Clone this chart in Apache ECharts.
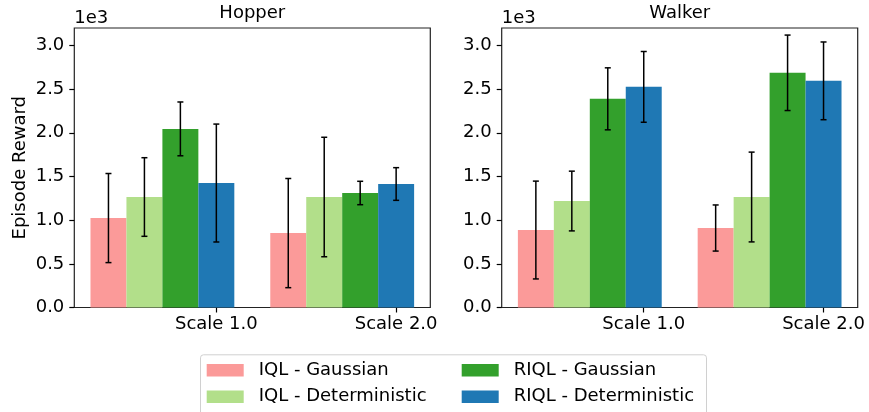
<!DOCTYPE html>
<html>
<head>
<meta charset="utf-8">
<script src="https://cdn.jsdelivr.net/npm/echarts@6/dist/echarts.min.js"></script>
<style>html,body{margin:0;padding:0;background:#fff}#c{width:869px;height:412px}</style>
</head>
<body>
<div id="c"></div>
<script>
// ---- data ----
const categories = ['Scale 1.0', 'Scale 2.0'];
const groupPos = [0, 1];
const tickPos = [0.6, 1.6];
const yTicks = [0, 500, 1000, 1500, 2000, 2500, 3000];
const methods = ['IQL - Gaussian', 'IQL - Deterministic', 'RIQL - Gaussian', 'RIQL - Deterministic'];
const colors = ['#fb9a99', '#b2df8a', '#33a02c', '#1f78b4'];
const envs = ['Hopper', 'Walker'];

// means per method: [Scale 1.0, Scale 2.0]
const hopperMean = [[1024, 852], [1265, 1265], [2045, 1311], [1425, 1414]];
const hopperStd  = [[510, 625], [450, 684], [308, 134], [675, 187]];
const walkerMean = [[887, 910], [1219, 1265], [2389, 2687], [2526, 2595]];
const walkerStd  = [[560, 264], [342, 514], [355, 432], [405, 445]];

const barW = 0.2;
const FONT = 'DejaVu Sans';
const FS = 18;

const chart = echarts.init(document.getElementById('c'), null, {renderer: 'canvas'});

const gridLefts = [74.3, 501.7];
const gridW = 356;

function makeSeries(gi, means, stds, mi) {
  return {
    type: 'custom',
    name: methods[mi],
    xAxisIndex: gi,
    yAxisIndex: gi,
    itemStyle: {color: colors[mi]},
    encode: {x: 0, y: 1},
    data: groupPos.map((g, k) => [g + mi * barW, means[mi][k], stds[mi][k]]),
    renderItem: function (params, api) {
      const x = api.value(0), y = api.value(1), e = api.value(2);
      const tl = api.coord([x - barW / 2, y]);
      const br = api.coord([x + barW / 2, 0]);
      const t = api.coord([x, y + e]);
      const b = api.coord([x, y - e]);
      const cw = 3;
      const ls = {stroke: '#000', lineWidth: 1.5};
      return {
        type: 'group',
        children: [
          {type: 'rect', shape: {x: tl[0], y: tl[1], width: br[0] - tl[0], height: br[1] - tl[1]}, style: {fill: colors[mi]}},
          {type: 'line', z2: 10, shape: {x1: t[0], y1: t[1], x2: b[0], y2: b[1]}, style: ls},
          {type: 'line', z2: 10, shape: {x1: t[0] - cw, y1: t[1], x2: t[0] + cw, y2: t[1]}, style: ls},
          {type: 'line', z2: 10, shape: {x1: b[0] - cw, y1: b[1], x2: b[0] + cw, y2: b[1]}, style: ls}
        ]
      };
    }
  };
}

const series = [];
[[hopperMean, hopperStd], [walkerMean, walkerStd]].forEach(([m, s], gi) => {
  for (let mi = 0; mi < methods.length; mi++) series.push(makeSeries(gi, m, s, mi));
});

const grids = gridLefts.map(l => ({
  left: l, top: 28, width: gridW, height: 279.5,
  show: true, borderColor: '#222', borderWidth: 1.2, backgroundColor: 'transparent'
}));

const xAxes = gridLefts.map((l, gi) => ({
  type: 'value', gridIndex: gi, min: -0.19, max: 1.79,
  splitLine: {show: false},
  axisLine: {show: false, onZero: false},
  axisTick: {show: true, customValues: tickPos, length: 5, lineStyle: {color: '#000', width: 1.2}},
  axisLabel: {
    customValues: tickPos, margin: 8, color: '#000', fontFamily: FONT, fontSize: FS,
    formatter: v => { const i = tickPos.findIndex(p => Math.abs(p - v) < 1e-6); return i >= 0 ? categories[i] : ''; }
  }
}));

const yAxes = gridLefts.map((l, gi) => ({
  type: 'value', gridIndex: gi, min: 0, max: 3200,
  name: gi === 0 ? 'Episode Reward' : '',
  nameLocation: 'middle', nameGap: 45,
  nameTextStyle: {fontFamily: FONT, fontSize: FS, color: '#000'},
  splitLine: {show: false},
  axisLine: {show: false, onZero: false},
  axisTick: {show: true, customValues: yTicks, length: 5, lineStyle: {color: '#000', width: 1.2}},
  axisLabel: {
    customValues: yTicks, margin: 10, color: '#000', fontFamily: FONT, fontSize: FS,
    formatter: v => (v / 1000).toFixed(1)
  }
}));

const titleStyle = {fontFamily: FONT, fontSize: FS, fontWeight: 'normal', color: '#000'};
const titles = [];
envs.forEach((e, gi) => {
  titles.push({text: e, left: gridLefts[gi] + gridW / 2, textAlign: 'center', top: 4, padding: 0, textStyle: titleStyle});
  titles.push({text: '1e3', left: gridLefts[gi], top: 9, padding: 0, textStyle: titleStyle});
});

const legendCommon = {
  orient: 'vertical', top: 360, padding: 0, itemGap: 6,
  itemWidth: 37, itemHeight: 12.5, icon: 'rect',
  textStyle: {fontFamily: FONT, fontSize: FS, color: '#000', lineHeight: 20.5, padding: [0, 0, 0, 10]}
};

chart.setOption({
  animation: false,
  backgroundColor: '#fff',
  title: titles,
  grid: grids,
  xAxis: xAxes,
  yAxis: yAxes,
  legend: [
    Object.assign({left: 206.7, data: [methods[0], methods[1]]}, legendCommon),
    Object.assign({left: 461.7, data: [methods[2], methods[3]]}, legendCommon)
  ],
  graphic: [{
    type: 'rect', z: 0, left: 200, top: 354.3,
    shape: {width: 506, height: 70, r: 3},
    style: {fill: '#fff', stroke: '#d0d0d0', lineWidth: 1}
  }],
  series: series
});
</script>
</body>
</html>
